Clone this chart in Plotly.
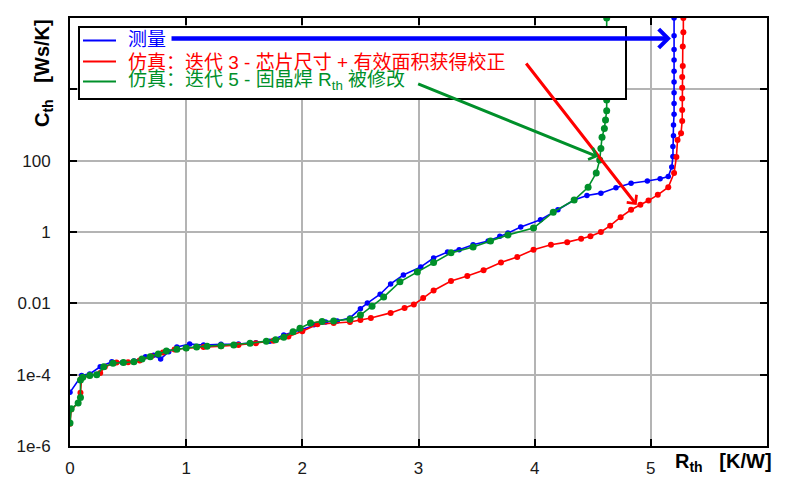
import plotly.graph_objects as go

# ---------------- data ----------------
series_names = [
    "测量",
    "仿真：迭代 3 - 芯片尺寸 + 有效面积获得校正",
    "仿真：迭代 5 - 固晶焊 R<sub>th</sub> 被修改",
]

r_meas = [0.00, 0.10, 0.17, 0.26, 0.36, 0.45, 0.55, 0.65, 0.72, 0.78, 0.85, 0.92,
          1.03, 1.15, 1.30, 1.45, 1.60, 1.72, 1.84, 1.98, 2.10, 2.20, 2.30, 2.41,
          2.50, 2.56, 2.67, 2.76, 2.87, 3.02, 3.13, 3.25, 3.35, 3.47, 3.60, 3.70,
          3.77, 3.88, 4.05, 4.20, 4.34, 4.45, 4.57, 4.70, 4.83, 4.97, 5.08, 5.15,
          5.18, 5.19, 5.19, 5.195, 5.195, 5.20, 5.20, 5.20, 5.20, 5.20, 5.20, 5.20,
          5.20, 5.20]
c_meas = [3.2e-5, 9.5e-5, 1.05e-4, 1.66e-4, 2.3e-4, 2.2e-4, 2.4e-4, 3.2e-4, 3.5e-4,
          2.75e-4, 4.4e-4, 6.0e-4, 7.2e-4, 6.8e-4, 7.1e-4, 7.2e-4, 7.9e-4, 8.7e-4,
          1.3e-3, 1.8e-3, 2.5e-3, 3.0e-3, 3.2e-3, 3.9e-3, 7.1e-3, 1.02e-2, 1.8e-2,
          3.5e-2, 6.2e-2, 0.105, 0.186, 0.275, 0.32, 0.44, 0.56, 0.76, 0.93, 1.38,
          2.2, 4.2, 7.9, 10.5, 12.3, 17.4, 23.4, 26.9, 31.0, 36.0, 66.0, 130.0,
          250.0, 500.0, 1000.0, 2000.0, 4000.0, 8000.0, 1.6e4, 3.2e4, 6.6e4,
          1.3e5, 3.2e5, 1.0e6]

r_sim3 = [0.00, 0.01, 0.07, 0.09, 0.10, 0.17, 0.26, 0.30, 0.40, 0.50, 0.60, 0.70,
          0.80, 0.90, 1.00, 1.15, 1.30, 1.45, 1.60, 1.75, 1.88, 2.00, 2.13, 2.27,
          2.41, 2.50, 2.59, 2.76, 2.88, 2.96, 3.04, 3.13, 3.28, 3.42, 3.56, 3.71,
          3.85, 3.99, 4.14, 4.28, 4.40, 4.48, 4.57, 4.65, 4.74, 4.83, 4.91, 4.98,
          5.06, 5.15, 5.20, 5.22, 5.23, 5.26, 5.27, 5.27, 5.27, 5.27, 5.27, 5.275,
          5.275, 5.28, 5.28]
c_sim3 = [4.2e-6, 1.05e-5, 1.6e-5, 3.1e-5, 8.1e-5, 9.5e-5, 1.12e-4, 1.66e-4, 2.2e-4,
          2.24e-4, 2.5e-4, 3.3e-4, 4.2e-4, 5.1e-4, 5.5e-4, 6.0e-4, 6.3e-4, 6.8e-4,
          7.6e-4, 8.9e-4, 1.17e-3, 1.66e-3, 2.6e-3, 2.8e-3, 3.0e-3, 3.4e-3, 3.9e-3,
          5.4e-3, 7.4e-3, 9.3e-3, 1.4e-2, 2.3e-2, 4.2e-2, 5.8e-2, 8.5e-2, 0.14, 0.20,
          0.32, 0.44, 0.52, 0.65, 0.76, 1.0, 1.5, 2.6, 4.2, 5.8, 7.6, 11.0, 18.0,
          45.0, 126.0, 380.0, 590.0, 1300.0, 2630.0, 5500.0, 1.1e4, 2.2e4, 4.5e4,
          1.6e5, 4.0e5, 1.0e6]

r_sim5 = [0.00, 0.01, 0.07, 0.09, 0.09, 0.11, 0.17, 0.23, 0.29, 0.37, 0.46, 0.55,
          0.62, 0.69, 0.76, 0.83, 0.92, 1.00, 1.09, 1.18, 1.30, 1.41, 1.55, 1.69,
          1.77, 1.84, 1.92, 1.98, 2.07, 2.17, 2.27, 2.41, 2.50, 2.60, 2.70, 2.84,
          2.99, 3.13, 3.28, 3.47, 3.62, 3.77, 3.99, 4.16, 4.34, 4.46, 4.53, 4.56,
          4.57, 4.58, 4.60, 4.61, 4.62, 4.62, 4.62, 4.62, 4.62]
c_sim5 = [4.4e-6, 1.1e-5, 1.6e-5, 2.3e-5, 7.1e-5, 8.5e-5, 9.5e-5, 1.0e-4, 1.66e-4,
          2.1e-4, 2.2e-4, 2.3e-4, 2.75e-4, 3.2e-4, 3.8e-4, 4.6e-4, 5.2e-4, 5.6e-4,
          6.0e-4, 6.3e-4, 6.5e-4, 6.8e-4, 7.6e-4, 8.7e-4, 9.5e-4, 1.12e-3, 1.6e-3,
          2.0e-3, 2.8e-3, 3.1e-3, 3.2e-3, 3.6e-3, 4.7e-3, 8.3e-3, 1.5e-2, 4.0e-2,
          7.6e-2, 0.14, 0.26, 0.38, 0.56, 0.83, 1.29, 3.6, 7.9, 18.0, 45.0, 105.0,
          220.0, 457.0, 800.0, 1380.0, 2500.0, 5000.0, 3.2e4, 3.2e5, 1.0e6]

x_tick_vals = [0, 1, 2, 3, 4, 5]
x_tick_text = ["0", "1", "2", "3", "4", "5"]
y_tick_vals = [1e-6, 1e-4, 1e-2, 1, 100, 1e4]
y_tick_text = ["1e-6", "1e-4", "0.01", "1", "100", ""]

BLUE = "#0000ff"
RED = "#ff0000"
GREEN = "#00902a"
colors = [BLUE, RED, GREEN]

# ---------------- figure ----------------
# the page body adds an 8px offset; the figure is sized so the plot area
# lands at screen x 70..767, y 18..446
OFF = 8
W, H = 803 - OFF, 496 - OFF
X0, Y0, X1, Y1 = 70, 18, 767, 446          # plot area in screen pixels
ML, MT = X0 - OFF, Y0 - OFF
MR, MB = (W + OFF) - X1, (H + OFF) - Y1
PW, PH = X1 - X0, Y1 - Y0

def px(xp):  # screen pixel x -> paper
    return (xp - X0) / PW

def py(yp):  # screen pixel y -> paper
    return 1 - (yp - Y0) / PH

fig = go.Figure()
for name, xs, ys, col, ms in [
    (series_names[0], r_meas, c_meas, BLUE, 5.5),
    (series_names[1], r_sim3, c_sim3, RED, 6),
    (series_names[2], r_sim5, c_sim5, GREEN, 7),
]:
    fig.add_trace(go.Scatter(
        x=xs, y=ys, name=name, mode="lines+markers",
        line=dict(color=col, width=1.6),
        marker=dict(color=col, size=ms, line=dict(width=0)),
        showlegend=False,
    ))

FONT = "Liberation Sans, Arial, Noto Sans CJK SC, sans-serif"
CJK = "Liberation Sans, Noto Sans CJK SC, sans-serif"

axis_common = dict(
    showline=True, linecolor="black", linewidth=2, mirror="ticks",
    ticks="inside", ticklen=7, tickwidth=2, tickcolor="black",
    showgrid=True, gridcolor="#b4b4b4", gridwidth=1.5, zeroline=False,
    tickfont=dict(family=FONT, size=17, color="#1a1a1a"),
    automargin=False,
)

fig.update_xaxes(range=[0, 6], tickmode="array", tickvals=x_tick_vals,
                 ticktext=x_tick_text, ticklabelstandoff=6, **axis_common)
fig.update_yaxes(type="log", range=[-6, 6], tickmode="array", tickvals=y_tick_vals,
                 ticktext=y_tick_text, ticklabelstandoff=14, **axis_common)

shapes = [
    dict(type="rect", xref="paper", yref="paper", layer="above",
         x0=px(79), x1=px(626), y0=py(99), y1=py(27),
         fillcolor="white", line=dict(color="black", width=2)),
]
row_line_y = [40.5, 61.5, 81.5]
row_text_y = [39, 62, 81]
annotations = []
for i in range(3):
    shapes.append(dict(type="line", xref="paper", yref="paper", layer="above",
                       x0=px(83), x1=px(116), y0=py(row_line_y[i]), y1=py(row_line_y[i]),
                       line=dict(color=colors[i], width=1.8)))
    annotations.append(dict(xref="paper", yref="paper", x=px(126), y=py(row_text_y[i]),
                            xanchor="left", yanchor="middle", showarrow=False,
                            text=series_names[i],
                            font=dict(family=CJK, size=19, color=colors[i])))

# arrows (log axis: y given as log10 values)
arrow_specs = [
    (5.173, 5.425, 0.861, 5.425, BLUE, 4.5),
    (4.878, 0.757, 3.917, 4.766, RED, 3),
    (4.545, 2.111, 2.984, 4.169, GREEN, 3),
]
for x, y, ax, ay, col, wd in arrow_specs:
    annotations.append(dict(x=x, y=y, ax=ax, ay=ay, xref="x", yref="y",
                            axref="x", ayref="y", text="", showarrow=True,
                            arrowhead=4, arrowsize=0.8, arrowwidth=wd,
                            arrowcolor=col, standoff=0))

# axis titles
annotations.append(dict(xref="paper", yref="paper", x=px(723), y=py(463),
                        xanchor="center", yanchor="middle", showarrow=False,
                        text="<b>R<sub>th</sub>\u00a0\u00a0 [K/W]</b>",
                        font=dict(family=FONT, size=20, color="black")))
annotations.append(dict(xref="paper", yref="paper", x=px(43), y=py(73),
                        xanchor="center", yanchor="middle", showarrow=False,
                        textangle=-90,
                        text="<b>C<sub>th</sub>\u00a0\u00a0 [Ws/K]</b>",
                        font=dict(family=FONT, size=20, color="black")))

fig.update_layout(
    width=W, height=H,
    margin=dict(l=ML, r=MR, t=MT, b=MB, autoexpand=False),
    paper_bgcolor="white", plot_bgcolor="white",
    shapes=shapes, annotations=annotations,
    showlegend=False,
)

fig.write_html("out.html")
